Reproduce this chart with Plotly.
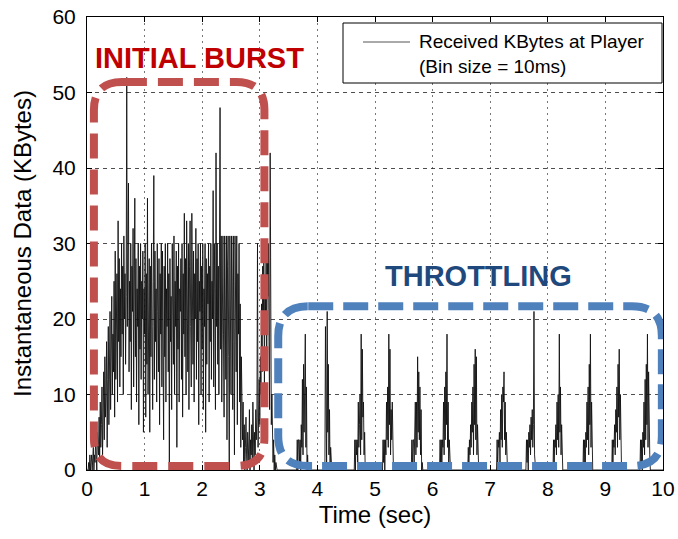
import numpy as np
import plotly.graph_objects as go

# ---------------- data ----------------
bin_size_s = 0.01          # 10 ms bins
n_bins = 1001              # 0 .. 10 s

# Initial burst, KBytes per 10 ms bin, starting at t = 0.00 s (rows of 0.1 s)
burst_values = [
    0, 0, 0, 1, 0, 2, 0, 1, 2, 0,
    1, 3, 0, 2, 1, 4, 2, 0, 5, 3,
    2, 7, 1, 9, 3, 6, 11, 2, 8, 13,
    4, 15, 7, 10, 17, 3, 12, 19, 6, 14,
    21, 8, 16, 23, 10, 18, 13, 25, 7, 29,
    12, 22, 26, 9, 33, 17, 28, 11, 24, 15,
    30, 18, 27, 10, 31, 20, 26, 14, 23, 52,
    19, 29, 38, 13, 25, 17, 30, 8, 27, 21,
    32, 11, 26, 36, 15, 28, 9, 24, 19, 30,
    6, 27, 16, 30, 12, 25, 20, 29, 5, 24,
    18, 30, 7, 26, 14, 36, 10, 23, 28, 5,
    27, 15, 30, 19, 8, 25, 39, 12, 29, 17,
    24, 9, 30, 21, 13, 28, 6, 26, 18, 30,
    11, 29, 20, 4, 27, 15, 30, 9, 24, 19,
    30, 13, 26, 0, 28, 17, 23, 8, 30, 20,
    14, 31, 10, 25, 19, 29, 3, 27, 16, 30,
    9, 24, 21, 28, 12, 30, 7, 26, 18, 34,
    15, 28, 10, 33, 22, 13, 30, 8, 27, 33,
    19, 11, 34, 24, 14, 29, 9, 26, 20, 32,
    12, 28, 17, 30, 6, 25, 21, 30, 10, 27,
    16, 30, 8, 24, 19, 30, 5, 28, 14, 26,
    22, 30, 9, 27, 17, 30, 12, 25, 20, 37,
    11, 30, 24, 8, 42, 19, 30, 14, 27, 10,
    31, 48, 16, 31, 9, 25, 31, 18, 7, 31,
    22, 12, 31, 4, 27, 31, 15, 0, 31, 20,
    10, 31, 25, 8, 31, 17, 2, 31, 22, 13,
    31, 6, 26, 18, 30, 9, 22, 3, 15, 7,
    4, 9, 1, 6, 0, 3, 7, 2, 0, 5,
    3, 1, 8, 0, 4, 2, 6, 1, 9, 3,
    0, 5, 2, 8, 4, 7, 30, 3, 9, 12,
    6, 15, 10, 22, 13, 27, 18, 30, 11, 25,
    20, 30, 14, 28, 23, 30, 17, 8, 42, 12,
    6, 10, 3, 1, 4, 0, 2, 0, 1, 0,
]

# Throttling phase: start time of each on-period (s) and its 10 ms bin values
cycle_starts = [3.65, 4.13, 4.65, 5.14, 5.64, 6.13, 6.62,
                7.12, 7.63, 8.10, 8.62, 9.12, 9.61]
cycle_values = [
    [4, 0, 4, 4, 1, 4, 0, 6, 3, 12, 2, 14, 5, 9, 18, 3, 11, 0, 2, 0],
    [0, 19, 1, 0, 21, 5, 14, 2, 8, 0, 3, 1],
    [4, 0, 4, 2, 4, 1, 9, 3, 6, 10, 2, 18, 4, 16, 7, 9, 2, 5, 0, 1],
    [4, 1, 4, 0, 4, 2, 9, 4, 11, 3, 18, 6, 16, 2, 8, 4, 9, 1, 0],
    [4, 0, 4, 4, 1, 6, 9, 2, 9, 3, 15, 5, 13, 4, 11, 2, 8, 0, 1],
    [4, 1, 4, 0, 4, 3, 9, 2, 11, 4, 13, 6, 18, 3, 9, 1, 4, 0],
    [3, 0, 4, 2, 6, 3, 9, 5, 11, 2, 14, 6, 16, 4, 15, 2, 6, 0],
    [4, 0, 4, 3, 5, 1, 8, 4, 10, 3, 11, 9, 13, 4, 9, 2, 5, 0],
    [4, 1, 4, 0, 5, 3, 6, 2, 7, 4, 8, 3, 6, 21, 2, 0],
    [4, 0, 4, 3, 6, 2, 9, 4, 10, 3, 18, 5, 11, 2, 6, 0],
    [4, 1, 4, 0, 5, 3, 9, 4, 11, 2, 14, 6, 18, 3, 9, 1, 0],
    [4, 0, 4, 3, 6, 2, 8, 5, 11, 3, 14, 7, 16, 4, 10, 2, 0],
    [4, 1, 4, 0, 5, 3, 9, 2, 12, 4, 14, 6, 18, 3, 13, 5, 2, 0],
]

x_ticks = list(range(0, 11))
y_ticks = list(range(0, 61, 10))
legend_lines = ["Received KBytes at Player", "(Bin size = 10ms)"]

# ---------------- assemble the series ----------------
t = np.arange(n_bins) * bin_size_s
kb = np.zeros(n_bins)
kb[:len(burst_values)] = burst_values
for start, vals in zip(cycle_starts, cycle_values):
    i0 = int(round(start / bin_size_s))
    kb[i0:i0 + len(vals)] = vals

FONT = "Liberation Sans, Arial, Helvetica, sans-serif"
LINE_COLOR = "#111111"

fig = go.Figure()
fig.add_trace(go.Scatter(
    x=t, y=kb, mode="lines",
    line=dict(color=LINE_COLOR, width=0.9),
    name=" ".join(legend_lines),
    showlegend=False, hoverinfo="skip",
))

# full-window figure (the page's default body margin is removed below)
W, H = 678, 539
# plot area in window pixels: x 87..663, y 17..470
AX0, AX1, AY0, AY1 = 87, 663, 17, 470
L, R, T, B = AX0, W - AX1, AY0, H - AY1
pw, ph = AX1 - AX0, AY1 - AY0
xr, yr = (0, 10), (0, 60)
sx = pw / (xr[1] - xr[0])
sy = ph / (yr[1] - yr[0])


def px_x(p):   # window pixel column -> paper x
    return (p - AX0) / pw


def px_y(p):   # window pixel row -> paper y
    return 1 - (p - AY0) / ph


def rounded_box(x0, x1, y0, y1, rpx):
    rx, ry = rpx / sx, rpx / sy
    return (f"M {x0 + rx},{y1} L {x1 - rx},{y1} Q {x1},{y1} {x1},{y1 - ry} "
            f"L {x1},{y0 + ry} Q {x1},{y0} {x1 - rx},{y0} "
            f"L {x0 + rx},{y0} Q {x0},{y0} {x0},{y0 + ry} "
            f"L {x0},{y1 - ry} Q {x0},{y1} {x0 + rx},{y1} Z")


fig.add_shape(type="path", xref="x", yref="y",
              path=rounded_box(0.12, 3.08, 0.53, 51.4, 28),
              line=dict(color="#C0504D", width=8, dash="25px,11px"))
fig.add_shape(type="path", xref="x", yref="y",
              path=rounded_box(3.32, 9.98, 0.53, 21.7, 30),
              line=dict(color="#4F81BD", width=8, dash="25px,10px"))

fig.add_annotation(x=1.957, y=54.6, xref="x", yref="y", showarrow=False,
                   text="<b>INITIAL BURST</b>",
                   font=dict(family=FONT, size=29, color="#C00000"))
fig.add_annotation(x=6.79, y=25.7, xref="x", yref="y", showarrow=False,
                   text="<b>THROTTLING</b>",
                   font=dict(family=FONT, size=29, color="#1F497D"))

# legend box (drawn by hand to match the original layout)
fig.add_shape(type="rect", xref="paper", yref="paper",
              x0=px_x(343), x1=px_x(662), y0=px_y(83), y1=px_y(23),
              fillcolor="white", line=dict(color="black", width=1), layer="above")
fig.add_shape(type="line", xref="paper", yref="paper",
              x0=px_x(363), x1=px_x(410), y0=px_y(42), y1=px_y(42),
              line=dict(color="#555555", width=1), layer="above")
fig.add_annotation(x=px_x(417), y=px_y(42), xref="paper", yref="paper",
                   xanchor="left", yanchor="middle", showarrow=False,
                   text=legend_lines[0],
                   font=dict(family=FONT, size=19, color="black"))
fig.add_annotation(x=px_x(417), y=px_y(66), xref="paper", yref="paper",
                   xanchor="left", yanchor="middle", showarrow=False,
                   text=legend_lines[1],
                   font=dict(family=FONT, size=19, color="black"))

axis_common = dict(
    showline=True, linecolor="black", linewidth=1, mirror="allticks",
    ticks="inside", ticklen=5, tickcolor="black", tickwidth=1,
    showgrid=True, zeroline=False, automargin=False,
    ticklabeloverflow="allow",
    tickfont=dict(family=FONT, size=21, color="black"),
)

fig.update_xaxes(range=list(xr), tickvals=x_ticks, ticktext=[str(v) for v in x_ticks],
                 gridcolor="#777777", gridwidth=1, griddash="2px,4px",
                 title=dict(text="Time (sec)", font=dict(family=FONT, size=24, color="black"),
                            standoff=6),
                 **axis_common)
fig.update_yaxes(range=list(yr), tickvals=y_ticks, ticktext=[str(v) for v in y_ticks],
                 gridcolor="#222222", gridwidth=0.8, griddash="4px,4px",
                 ticklabelstandoff=6,
                 title=dict(text="Instantaneous Data (KBytes)",
                            font=dict(family=FONT, size=24, color="black"), standoff=14),
                 **axis_common)

fig.update_layout(
    width=W, height=H,
    margin=dict(l=L, r=R, t=T, b=B, autoexpand=False),
    paper_bgcolor="white", plot_bgcolor="white",
    showlegend=False, hovermode=False,
)

fig.write_html("out.html",
               config={"displayModeBar": False, "staticPlot": True},
               post_script="document.body.style.margin='0';"
                           "document.body.style.overflow='hidden';")
